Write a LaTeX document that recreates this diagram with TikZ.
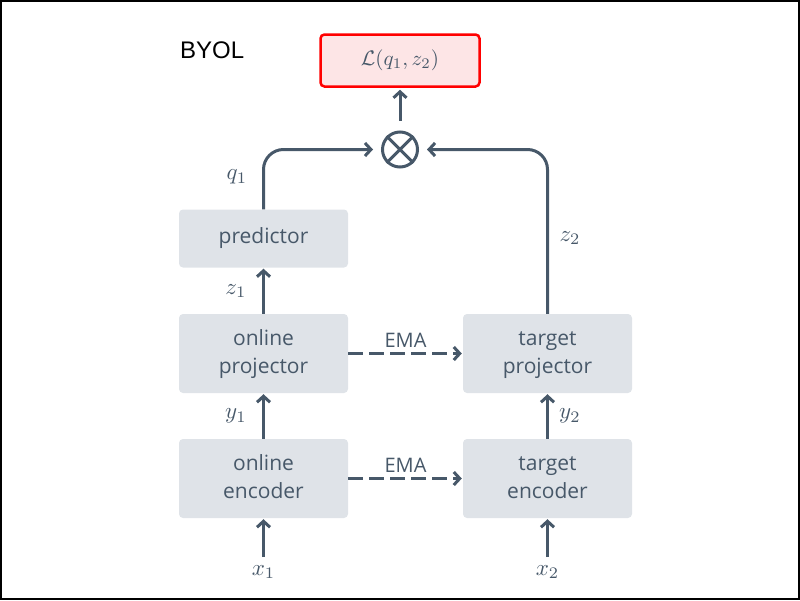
\RequirePackage{fix-cm}
\documentclass[tikz,border=0pt]{standalone}
\usepackage{fontspec}
\setmainfont{Open Sans}
\newfontfamily\byolfont{Liberation Sans}
\usetikzlibrary{arrows.meta}
\definecolor{slate}{HTML}{475869}
\definecolor{boxfill}{HTML}{DFE3E8}
\definecolor{lossfill}{HTML}{FDE5E6}
\definecolor{lossred}{HTML}{FF0000}
\newcommand\twolines[2]{\raisebox{-4pt}{\renewcommand\arraystretch{1}\begin{tabular}{@{}c@{}}#1\\#2\end{tabular}}}
\newcommand\bigmath[2]{\scalebox{#1}{$#2$}}
\tikzset{
  blk/.style={fill=boxfill, rounded corners=4pt, minimum width=169pt, text=slate,
    align=center, font=\fontsize{21}{28}\selectfont, inner sep=0pt},
  lbl/.style={text=slate, font=\fontsize{10}{12}\selectfont, inner sep=0pt},
  arr/.style={draw=slate, line width=3pt, -{Straight Barb[length=6pt,width=13pt]}},
  emaarr/.style={arr, dash pattern=on 15pt off 6pt},
  ema/.style={text=slate, font=\fontsize{20}{24}\selectfont, inner sep=5pt},
}
\begin{document}
\begin{tikzpicture}[x=1pt,y=-1pt]
\useasboundingbox (0,0) rectangle (800,600);
\draw[black, line width=2pt] (1,1) rectangle (799,599);

\node[blk, minimum height=58pt] (pred) at (263.5,238.5) {\raisebox{-2pt}{predictor}};
\node[blk, minimum height=79pt] (oproj) at (263.5,353.5) {\twolines{online}{projector}};
\node[blk, minimum height=79pt] (oenc) at (263.5,478.5) {\twolines{online}{encoder}};
\node[blk, minimum height=79pt] (tproj) at (547.5,353.5) {\twolines{target}{projector}};
\node[blk, minimum height=79pt] (tenc) at (547.5,478.5) {\twolines{target}{encoder}};

\node[draw=lossred, fill=lossfill, line width=2.5pt, rounded corners=4pt,
  minimum width=159pt, minimum height=52pt, text=slate,
  font=\fontsize{10}{12}\selectfont] (loss) at (400,60.5) {\bigmath{2.1}{\mathcal{L}(q_1, z_2)}};

\node[draw=slate, line width=3pt, circle, minimum size=35pt, inner sep=0pt] (ot) at (400,149.5) {};
\draw[slate, line width=3pt] (ot.north west) -- (ot.south east) (ot.north east) -- (ot.south west);

\node[anchor=base west, font=\byolfont\fontsize{24}{28}\selectfont, inner sep=0pt] (title) at (180,58) {BYOL};

\node[lbl] (x1) at (263.5,572) {\bigmath{2.3}{x_1}};
\node[lbl] (x2) at (547.5,572) {\bigmath{2.3}{x_2}};
\node[lbl] (y1) at (236,416) {\bigmath{2.3}{y_1}};
\node[lbl] (y2) at (570,416) {\bigmath{2.3}{y_2}};
\node[lbl] (z1) at (236,291) {\bigmath{2.3}{z_1}};
\node[lbl] (z2) at (570,238) {\bigmath{2.3}{z_2}};
\node[lbl] (q1) at (237,177) {\bigmath{2.3}{q_1}};

\draw[arr, shorten <=8pt, shorten >=1pt] (x1) -- (oenc);
\draw[arr, shorten <=8pt, shorten >=1pt] (x2) -- (tenc);
\draw[arr, shorten >=1pt] (oenc) -- (oproj);
\draw[arr, shorten >=1pt] (tenc) -- (tproj);
\draw[arr, shorten >=1pt] (oproj) -- (pred);
\draw[emaarr, shorten >=1pt] (oproj) -- node[ema, above] {EMA} (tproj);
\draw[emaarr, shorten >=1pt] (oenc) -- node[ema, above] {EMA} (tenc);
\draw[arr, rounded corners=20pt, shorten >=8pt] (pred.north) |- (ot.west);
\draw[arr, rounded corners=20pt, shorten >=8pt] (tproj.north) |- (ot.east);
\draw[arr, shorten <=10pt, shorten >=2pt] (ot.north) -- (loss.south);
\end{tikzpicture}
\end{document}
